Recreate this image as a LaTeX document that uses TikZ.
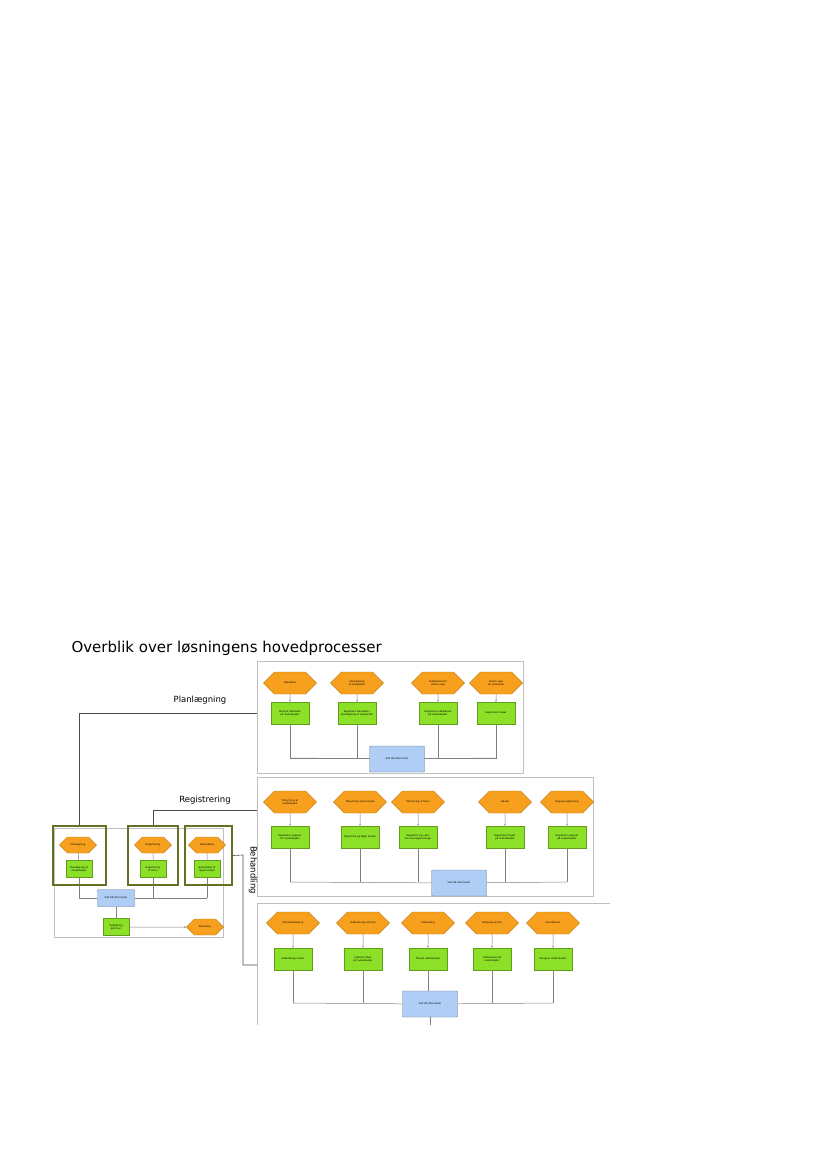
\documentclass[tikz,border=0pt]{standalone}
\usepackage{fontspec}
\setmainfont{DejaVu Sans}
\usetikzlibrary{shapes.symbols, positioning, arrows.meta}

\definecolor{hexorange}{RGB}{247,160,30}
\definecolor{boxgreen}{RGB}{140,225,40}
\definecolor{sysblue}{RGB}{175,205,245}
\definecolor{framegreen}{RGB}{95,115,35}

\tikzset{
	hexproc/.style={signal, signal to=east and west, draw=hexorange!80!black, fill=hexorange,
		minimum width=46pt, minimum height=22pt, inner sep=0.5pt, align=center,
		font=\fontsize{2.4}{2.8}\selectfont, text width=30pt},
	smallhex/.style={hexproc, minimum width=30pt, minimum height=16pt, text width=20pt},
	funcbox/.style={draw=boxgreen!70!black, fill=boxgreen, minimum width=38pt, minimum height=22pt,
		align=center, font=\fontsize{2.4}{2.8}\selectfont, text width=34pt, inner sep=0.5pt},
	smallbox/.style={funcbox, minimum width=26pt, minimum height=17pt, text width=24pt},
	sysbox/.style={draw=sysblue!60!black, fill=sysblue, rounded corners=1pt, minimum width=55pt,
		minimum height=26pt, font=\fontsize{2.4}{2.8}\selectfont},
	wire/.style={draw=gray, line width=0.5pt},
	panel/.style={draw=lightgray, line width=0.6pt},
	lead/.style={draw=black!70, line width=0.6pt}
}

\begin{document}
\begin{tikzpicture}[x=1pt, y=-1pt]
	\useasboundingbox (0,0) rectangle (827,1169);

	\node[anchor=west, font=\fontsize{15}{17}\selectfont] (title) at (68,648) {Overblik over løsningens hovedprocesser};

	% Planlægning
	\draw[panel] (257,661) rectangle (523,773);
	\foreach \n/\x/\h/\g in {1/290/Hændelse/Afslutte hændelse på medarbejder,
		2/357/Planlægning af arbejdsfelt/Registrere hændelse i planlægning af arbejdsfelt,
		3/438/Indkaldelse for ekstra vagt/Registrere indkaldelse på medarbejder,
		4/496/Ekstra vagt for personale/Registrere fravær}{
		\node[hexproc] (p1h\n) at (\x,683) {\h};
		\node[funcbox] (p1g\n) at (\x,713) {\g};
		\draw[wire,-{Stealth[length=2pt]}] (p1h\n) -- (p1g\n);
		\draw[wire] (p1g\n.south) |- (357,758);
	}
	\node[sysbox] (p1s) at (397,759) {SAP HR (Danmark)};
	\draw[wire] (p1g1.south |- 0,758) -- (p1s);
	\draw[wire] (p1s) -- (p1g4.south |- 0,758);

	% Registrering
	\draw[panel] (257,777) rectangle (593,896);
	\foreach \n/\x/\h/\g in {1/290/Tilknytning af medarbejder/Registrere opgaver for medarbejder,
		2/360/Tilknytning af personale/Registrere og følge fravær,
		3/418/Tilknytning af timer/Registrere og validere timeregistreringer,
		4/505/Fravær/Registrere fravær på medarbejder,
		5/567/Opgaveregistrering/Registrere opgaver på medarbejder}{
		\node[hexproc] (p2h\n) at (\x,802) {\h};
		\node[funcbox] (p2g\n) at (\x,837) {\g};
		\draw[wire,-{Stealth[length=2pt]}] (p2h\n) -- (p2g\n);
		\draw[wire] (p2g\n.south) -- (p2g\n.south |- 0,882);
	}
	\node[sysbox] (p2s) at (459,883) {SAP HR (Danmark)};
	\draw[wire] (p2g1.south |- 0,882) -- (p2s);
	\draw[wire] (p2s) -- (p2g5.south |- 0,882);

	% Behandling
	\draw[panel] (257,1025) -- (257,903) -- (610,903);
	\foreach \n/\x/\h/\g in {1/293/Periodeafslutning/Udbetalinger køres,
		2/363/Indberetning af timer/Indberet timer på medarbejder,
		3/428/Udbetaling/Tilbyde udbetalinger,
		4/492/Afregning af løn/Indberet løn på medarbejder,
		5/553/Korrektioner/Korrigere medarbejder}{
		\node[hexproc] (p3h\n) at (\x,923) {\h};
		\node[funcbox] (p3g\n) at (\x,959) {\g};
		\draw[wire,-{Stealth[length=2pt]}] (p3h\n) -- (p3g\n);
		\draw[wire] (p3g\n.south) -- (p3g\n.south |- 0,1003);
	}
	\node[sysbox] (p3s) at (430,1004) {SAP HR (Danmark)};
	\draw[wire] (p3g1.south |- 0,1003) -- (p3s);
	\draw[wire] (p3s) -- (p3g5.south |- 0,1003);
	\coordinate (p3end) at (430,1025);
	\draw[wire] (p3s) -- (p3end);

	% overblik til venstre
	\draw[panel] (54,828) rectangle (223,937);
	\node[smallhex] (oh1) at (78,845) {Planlægning};
	\node[smallhex] (oh2) at (153,845) {Registrering};
	\node[smallhex] (oh3) at (207,845) {Behandling};
	\node[smallbox] (og1) at (79,869) {Planlægning af medarbejder};
	\node[smallbox] (og2) at (153,869) {Registrering af timer};
	\node[smallbox] (og3) at (207,869) {Behandling af registreringer};
	\foreach \n in {1,2,3}{
		\draw[wire] (oh\n) -- (og\n);
		\draw[wire] (og\n.south) -- (og\n.south |- 0,898);
	}
	\node[sysbox, minimum width=37pt, minimum height=17pt] (os) at (116,898) {SAP HR (Danmark)};
	\draw[wire] (og1.south |- 0,898) -- (os);
	\draw[wire] (os) -- (og3.south |- 0,898);
	\node[smallbox] (og4) at (116,927) {Opfølgning på timer};
	\node[smallhex] (oh4) at (205,927) {Afslutning};
	\draw[wire] (os) -- (og4);
	\draw[wire,-{Stealth[length=2pt]}] (og4) -- (oh4);

	\node[draw=framegreen, line width=1.4pt, minimum width=53pt, minimum height=59pt] (f1) at (79.5,855.5) {};
	\node[draw=framegreen, line width=1.4pt, minimum width=50pt, minimum height=59pt] (f2) at (153,855.5) {};
	\node[draw=framegreen, line width=1.4pt, minimum width=47pt, minimum height=59pt] (f3) at (208.5,855.5) {};

	% forbindelser til faserne
	\node[font=\fontsize{8.5}{10}\selectfont] (lplan) at (200,700) {Planlægning};
	\node[font=\fontsize{8.5}{10}\selectfont] (lreg) at (205,800) {Registrering};
	\node[font=\fontsize{8.5}{10}\selectfont, rotate=-90] (lbeh) at (253,870) {Behandling};
	\draw[lead] (f1.north) |- (257,713);
	\draw[lead] (f2.north) |- (257,810);
	\draw[lead] (f3.east) -- (243,855) |- (257,965);
\end{tikzpicture}
\end{document}
